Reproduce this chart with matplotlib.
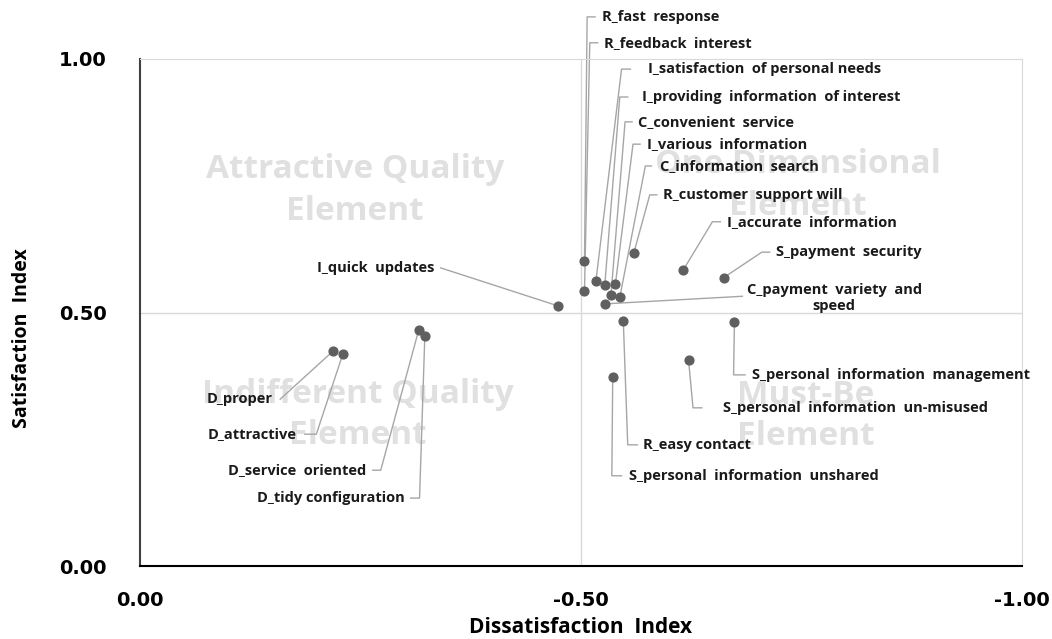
import matplotlib
matplotlib.use("Agg")
import matplotlib.pyplot as plt
import numpy as np

plt.rcParams['font.family'] = ['Open Sans', 'DejaVu Sans']

# Kano attributes: dissatisfaction index (negative), satisfaction index
names = ['R_fast  response', 'R_feedback  interest', 'I_satisfaction  of personal needs',
         'I_providing  information  of interest', 'C_convenient  service', 'I_various  information',
         'C_information  search', 'R_customer  support will', 'I_accurate  information',
         'S_payment  security', 'C_payment  variety  and\nspeed', 'I_quick  updates',
         'R_easy contact', 'S_personal  information  management', 'S_personal  information  un-misused',
         'S_personal  information  unshared', 'D_proper', 'D_attractive',
         'D_service  oriented', 'D_tidy configuration']
dissat = [-0.504, -0.504, -0.517, -0.527, -0.534, -0.539, -0.544, -0.560, -0.616, -0.662,
          -0.527, -0.474, -0.548, -0.674, -0.622, -0.536, -0.219, -0.230, -0.316, -0.323]
sat = [0.602, 0.543, 0.563, 0.554, 0.535, 0.556, 0.530, 0.618, 0.584, 0.569,
       0.517, 0.513, 0.483, 0.481, 0.406, 0.372, 0.424, 0.418, 0.465, 0.454]

quadrants = ['Attractive Quality\nElement', 'One Dimensional\nElement',
             'Indifferent Quality\nElement', 'Must-Be\nElement']

# label layout: (text x, text y, ha, leader path points after the marker)
layout = [
    (-0.524, 1.083, 'left', [(-0.507, 1.083), (-0.516, 1.083)]),
    (-0.526, 1.032, 'left', [(-0.510, 1.032), (-0.519, 1.032)]),
    (-0.576, 0.980, 'left', [(-0.546, 0.980), (-0.556, 0.980)]),
    (-0.569, 0.925, 'left', [(-0.544, 0.925), (-0.553, 0.925)]),
    (-0.565, 0.876, 'left', [(-0.550, 0.876), (-0.558, 0.876)]),
    (-0.575, 0.832, 'left', [(-0.559, 0.832), (-0.567, 0.832)]),
    (-0.590, 0.789, 'left', [(-0.573, 0.789), (-0.580, 0.789)]),
    (-0.593, 0.732, 'left', [(-0.578, 0.732), (-0.586, 0.732)]),
    (-0.666, 0.679, 'left', [(-0.649, 0.679), (-0.658, 0.679)]),
    (-0.721, 0.619, 'left', [(-0.705, 0.619), (-0.714, 0.619)]),
    (-0.787, 0.529, 'center', [(-0.683, 0.532)]),
    (-0.334, 0.588, 'right', [(-0.341, 0.588)]),
    (-0.570, 0.239, 'left', [(-0.553, 0.239), (-0.564, 0.239)]),
    (-0.694, 0.377, 'left', [(-0.673, 0.377), (-0.686, 0.377)]),
    (-0.661, 0.312, 'left', [(-0.627, 0.312), (-0.637, 0.312)]),
    (-0.554, 0.178, 'left', [(-0.535, 0.178), (-0.546, 0.178)]),
    (-0.151, 0.329, 'right', [(-0.159, 0.329)]),
    (-0.178, 0.260, 'right', [(-0.200, 0.260), (-0.187, 0.260)]),
    (-0.257, 0.189, 'right', [(-0.273, 0.189), (-0.264, 0.189)]),
    (-0.300, 0.134, 'right', [(-0.317, 0.134), (-0.307, 0.134)]),
]
quad_pos = [(-0.244, 0.740), (-0.746, 0.751), (-0.247, 0.298), (-0.755, 0.296)]

fig = plt.figure(figsize=(10.52, 6.39), dpi=100)
ax = fig.add_axes([0.133, 0.1142, 0.8385, 0.7935])

for (qx, qy), q in zip(quad_pos, quadrants):
    ax.text(qx, qy, q, ha='center', va='center', fontsize=24, fontweight='bold',
            color='#e0e0e0', linespacing=1.35, zorder=1)

ax.axvline(-0.5, color='#d9d9d9', lw=1, zorder=0)
ax.axhline(0.5, color='#d9d9d9', lw=1, zorder=0)

for x, y, name, (tx, ty, ha, path) in zip(dissat, sat, names, layout):
    px = [x] + [p[0] for p in path]
    py = [y] + [p[1] for p in path]
    ax.plot(px, py, color='#a6a6a6', lw=1, zorder=2, clip_on=False)
    ax.text(tx, ty, name, ha=ha, va='center', fontsize=10.5, fontweight='bold',
            color='#1a1a1a', clip_on=False, linespacing=1.15)

ax.scatter(dissat, sat, s=40, color='#5f5f5f', zorder=3)

ax.set_xlim(0, -1)
ax.set_ylim(0, 1)
ax.set_xticks([0, -0.5, -1.0])
ax.set_xticklabels(['0.00', '-0.50', '-1.00'])
ax.set_yticks([0, 0.5, 1.0])
ax.set_yticklabels(['0.00', '0.50', '1.00'])
ax.tick_params(length=0)
ax.tick_params(axis='x', pad=18)
ax.tick_params(axis='y', pad=24)
for lab in ax.get_xticklabels() + ax.get_yticklabels():
    lab.set_fontweight('bold')
    lab.set_fontsize(14)
    lab.set_family('DejaVu Sans')

ax.spines['left'].set_color('#404040')
ax.spines['bottom'].set_color('#000000')
ax.spines['left'].set_linewidth(1.5)
ax.spines['bottom'].set_linewidth(1.5)
ax.spines['top'].set_color('#d9d9d9')
ax.spines['right'].set_color('#d9d9d9')

ax.set_xlabel('Dissatisfaction  Index', fontsize=15, fontweight='bold', va='center')
ax.set_ylabel('Satisfaction  Index', fontsize=14, fontweight='bold', va='center')
ax.xaxis.set_label_coords(0.5, -0.122)
ax.yaxis.set_label_coords(-0.134, 0.45)

fig.savefig('out.png', dpi=100)
